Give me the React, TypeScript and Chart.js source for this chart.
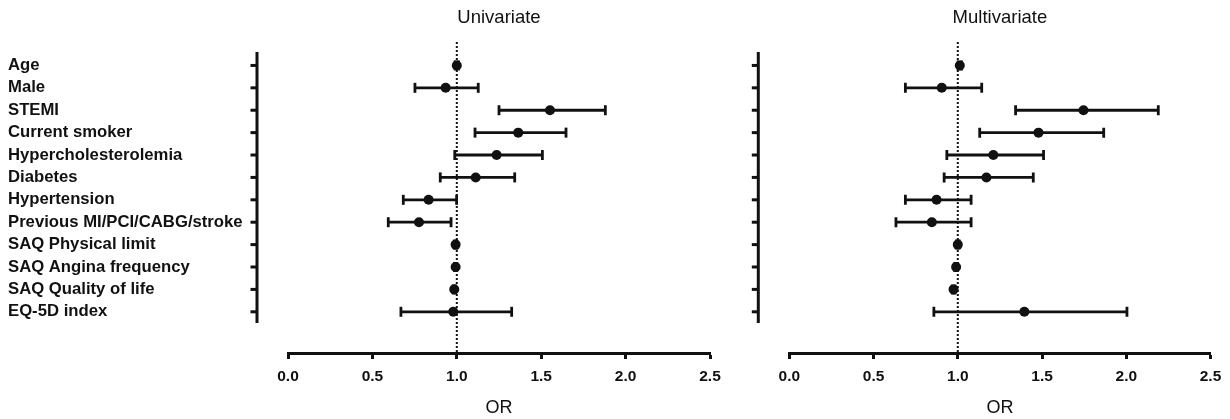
import React, { useEffect, useRef } from 'react';
import { Chart, registerables } from 'chart.js';

Chart.register(...registerables);

const categories = [
  'Age',
  'Male',
  'STEMI',
  'Current smoker',
  'Hypercholesterolemia',
  'Diabetes',
  'Hypertension',
  'Previous MI/PCI/CABG/stroke',
  'SAQ Physical limit',
  'SAQ Angina frequency',
  'SAQ Quality of life',
  'EQ-5D index',
];

const uniOR = [1.0, 0.934, 1.552, 1.364, 1.236, 1.112, 0.833, 0.776, 0.993, 0.993, 0.985, 0.979];
const uniLower = [0.99, 0.752, 1.25, 1.108, 0.988, 0.902, 0.683, 0.594, 0.986, 0.986, 0.978, 0.669];
const uniUpper = [1.01, 1.127, 1.88, 1.647, 1.507, 1.343, 0.999, 0.966, 1.0, 1.0, 0.992, 1.325];

const multiOR = [1.012, 0.905, 1.746, 1.479, 1.211, 1.17, 0.874, 0.846, 1.0, 0.99, 0.975, 1.395];
const multiLower = [1.002, 0.689, 1.343, 1.13, 0.935, 0.919, 0.689, 0.633, 0.992, 0.982, 0.967, 0.858];
const multiUpper = [1.022, 1.142, 2.19, 1.866, 1.509, 1.448, 1.079, 1.079, 1.008, 0.998, 0.983, 2.004];

const xTickValues = [0, 0.5, 1.0, 1.5, 2.0, 2.5];
const xTickLabels = ['0.0', '0.5', '1.0', '1.5', '2.0', '2.5'];
const referenceOR = 1;
const xTitle = 'OR';
const panelTitles = ['Univariate', 'Multivariate'];

const FONT = "'Liberation Sans', Arial, Helvetica, sans-serif";
const INK = '#111';

const forestAxes = {
  id: 'forestAxes',
  beforeDatasetsDraw(chart: any) {
    const { ctx, chartArea, scales } = chart;
    const x = scales.x;
    const y = scales.y;
    const axisX = chartArea.left - 31;
    ctx.save();
    ctx.strokeStyle = INK;
    ctx.lineWidth = 3;
    ctx.lineCap = 'butt';
    ctx.beginPath();
    ctx.moveTo(axisX, chartArea.top);
    ctx.lineTo(axisX, y.getPixelForValue(categories.length - 0.5));
    ctx.stroke();
    categories.forEach((_, i) => {
      const py = y.getPixelForValue(i);
      ctx.beginPath();
      ctx.moveTo(axisX - 6.5, py);
      ctx.lineTo(axisX, py);
      ctx.stroke();
    });
    const rx = x.getPixelForValue(referenceOR);
    ctx.lineWidth = 2;
    ctx.setLineDash([2, 2]);
    ctx.beginPath();
    ctx.moveTo(rx, chartArea.top - 10);
    ctx.lineTo(rx, chartArea.bottom);
    ctx.stroke();
    ctx.restore();
  },
};

type PanelProps = {
  title: string;
  est: number[];
  lo: number[];
  hi: number[];
  showLabels: boolean;
  width: number;
  padLeft: number;
  padRight: number;
  left: number;
};

function Panel({ title, est, lo, hi, showLabels, width, padLeft, padRight, left }: PanelProps) {
  const ref = useRef<HTMLCanvasElement | null>(null);
  useEffect(() => {
    if (!ref.current) return;
    const ciSets = categories.map((_, i) => ({
      data: [
        { x: lo[i], y: i },
        { x: hi[i], y: i },
      ],
      showLine: true,
      borderColor: INK,
      borderWidth: 2.8,
      pointStyle: 'line',
      rotation: 90,
      pointRadius: 5,
      pointHoverRadius: 5,
      pointBorderColor: INK,
      pointBorderWidth: 2.8,
      order: 1,
    }));
    const pointSet = {
      data: est.map((v, i) => ({ x: v, y: i })),
      showLine: false,
      pointStyle: 'circle',
      pointRadius: 5,
      pointHoverRadius: 5,
      backgroundColor: INK,
      borderColor: INK,
      pointBorderWidth: 0,
      order: 0,
    };
    const chart = new Chart(ref.current, {
      type: 'scatter',
      data: { datasets: [...ciSets, pointSet] as any },
      plugins: [forestAxes],
      options: {
        animation: false,
        responsive: false,
        events: [],
        layout: { padding: { left: padLeft, right: padRight, top: 0, bottom: 0 } },
        plugins: {
          legend: { display: false },
          tooltip: { enabled: false },
          title: {
            display: true,
            text: title,
            fullSize: false,
            color: INK,
            font: { family: FONT, size: 18.5, weight: 'normal' },
            padding: { top: 6.4, bottom: 23.4 },
          },
        },
        scales: {
          x: {
            type: 'linear',
            min: xTickValues[0],
            max: xTickValues[xTickValues.length - 1],
            afterBuildTicks: (s: any) => {
              s.ticks = xTickValues.map((v) => ({ value: v }));
            },
            afterFit: (s: any) => {
              s.height = 66;
            },
            ticks: {
              autoSkip: false,
              maxRotation: 0,
              padding: 8.7,
              color: INK,
              font: { family: FONT, size: 15.5, weight: 'bold' },
              callback: (v: any) => xTickLabels[xTickValues.indexOf(Number(v))],
            },
            grid: {
              drawOnChartArea: false,
              drawTicks: true,
              tickLength: 6,
              tickWidth: 3,
              tickColor: INK,
              color: INK,
            },
            border: { display: true, color: INK, width: 3 },
            title: {
              display: true,
              text: xTitle,
              color: INK,
              font: { family: FONT, size: 18, weight: 'normal' },
              padding: { top: 0, bottom: 0 },
            },
          },
          y: {
            type: 'linear',
            reverse: true,
            min: -0.6,
            max: 12.84,
            display: showLabels,
            afterBuildTicks: (s: any) => {
              s.ticks = categories.map((_, i) => ({ value: i }));
            },
            afterFit: (s: any) => {
              s.width = showLabels ? 280 : 0;
            },
            ticks: {
              autoSkip: false,
              crossAlign: 'far',
              padding: 0,
              color: INK,
              font: { family: FONT, size: 16.7, weight: 'bold' },
              callback: (v: any) => categories[Number(v)] ?? '',
            },
            grid: { display: false, drawTicks: false },
            border: { display: false },
          },
        },
      } as any,
    });
    return () => chart.destroy();
  }, []);
  return (
    <div style={{ position: 'absolute', left, top: 0, width, height: 419 }}>
      <canvas ref={ref} width={width} height={419} style={{ display: 'block' }} />
    </div>
  );
}

export default function App() {
  return (
    <div style={{ position: 'absolute', left: 0, top: 0, width: 1230, height: 419, background: '#fff' }}>
      <Panel
        title={panelTitles[0]}
        est={uniOR}
        lo={uniLower}
        hi={uniUpper}
        showLabels={true}
        width={735}
        padLeft={8}
        padRight={25}
        left={0}
      />
      <Panel
        title={panelTitles[1]}
        est={multiOR}
        lo={multiLower}
        hi={multiUpper}
        showLabels={false}
        width={495}
        padLeft={54.3}
        padRight={18.3}
        left={735}
      />
    </div>
  );
}
